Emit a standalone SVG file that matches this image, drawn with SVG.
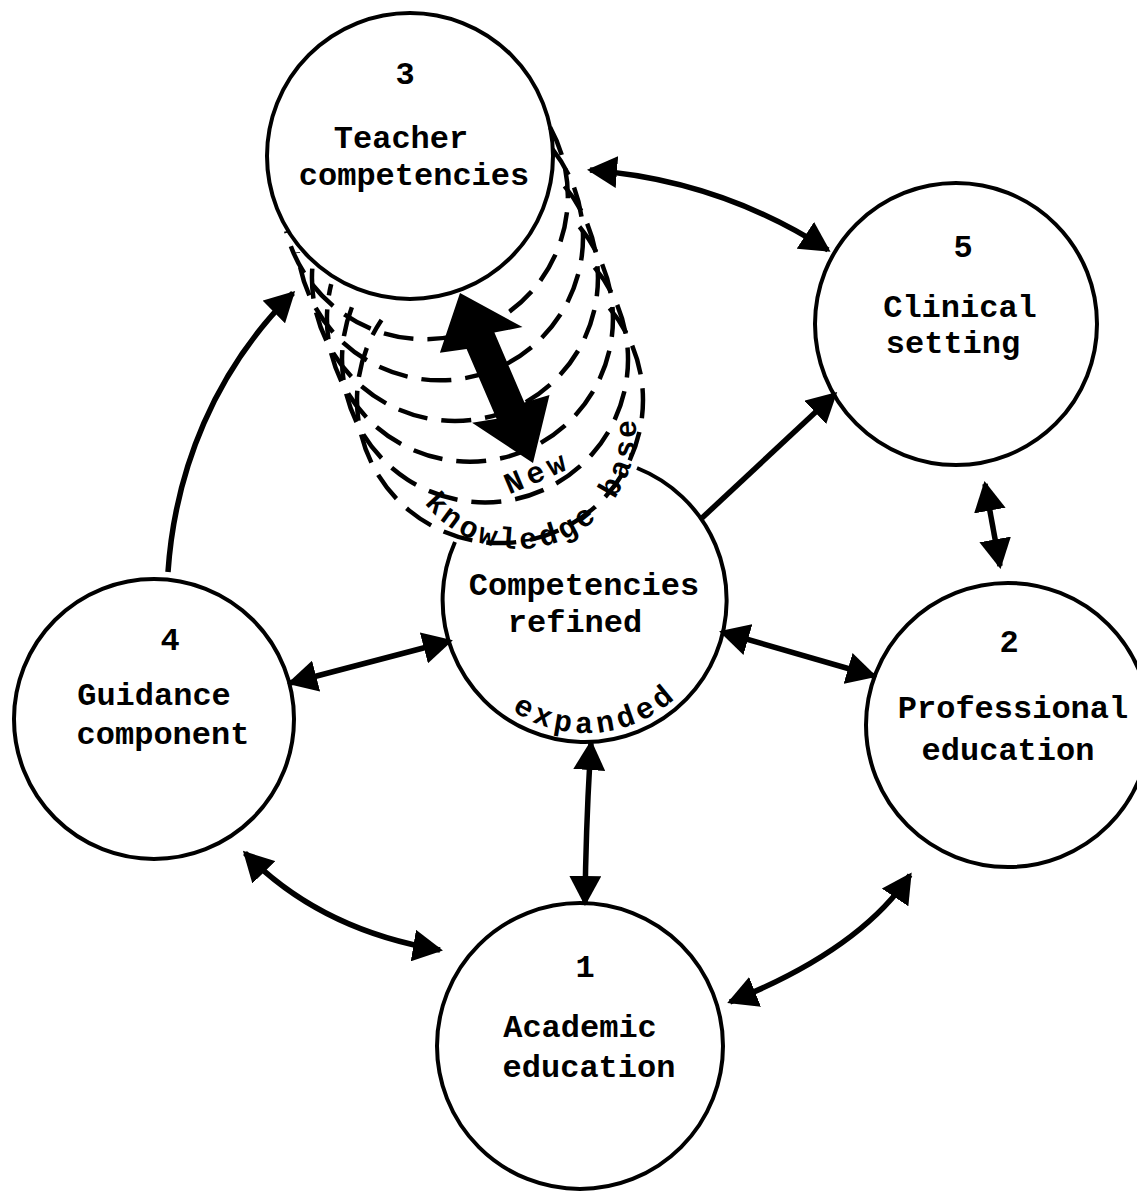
<svg xmlns="http://www.w3.org/2000/svg" width="1137" height="1195" viewBox="0 0 1137 1195">
  <style>
    .node{fill:none;stroke:#000;stroke-width:4}
    .lbl{font-family:"Liberation Mono","Courier New",monospace;font-size:32px;font-weight:bold;fill:#000;text-anchor:middle}
    .curved{font-family:"Liberation Mono","Courier New",monospace;font-size:30px;font-weight:bold;fill:#000}
    .conn{fill:none;stroke:#000;stroke-width:5.5}
    .ghost{fill:none;stroke:#000;stroke-width:4.5;stroke-dasharray:30 14}
  </style>
  <defs>
    <marker id="head" markerUnits="userSpaceOnUse" viewBox="0 0 30 32" refX="27" refY="16" markerWidth="30" markerHeight="32" orient="auto-start-reverse">
      <path d="M0,0 L30,16 L0,32 Z" fill="#000"/>
    </marker>
    <!-- baselines for the curved captions -->
    <path id="kbPath" d="M418.5,494.4 A118,118 0 0 0 633.2,405.5"/>
    <path id="expPath" d="M477.1,676.3 A133,133 0 0 0 706.5,656.2"/>
  </defs>

  <rect width="1137" height="1195" fill="#fff"/>

  <!-- dashed trail: copies of the teacher-competencies circle sliding toward the centre -->
  <g id="trail">
    <path class="ghost" d="M550.1,127.3 A143,143 0 1 1 286.2,231.3"/>
    <path class="ghost" d="M552.7,149.3 A143,143 0 1 1 297.8,252.3"/>
    <path class="ghost" d="M564.5,186.1 A143,143 0 1 1 312.3,268.0"/>
    <path class="ghost" d="M579.5,226.8 A143,143 0 1 1 331.2,284.1"/>
    <path class="ghost" d="M594.5,267.4 A143,143 0 1 1 354.4,301.2"/>
    <path class="ghost" d="M609.5,308.1 A143,143 0 1 1 381.5,320.0"/>
  </g>

  <g id="connectors">
    <path class="conn" d="M590,170 Q720,180 828,250" marker-start="url(#head)" marker-end="url(#head)"/>
    <path class="conn" d="M168,572 C175,470 215,370 293,293" marker-end="url(#head)"/>
    <path class="conn" d="M290,683 L450,641" marker-start="url(#head)" marker-end="url(#head)"/>
    <path class="conn" d="M722,632 L874,676" marker-start="url(#head)" marker-end="url(#head)"/>
    <path class="conn" d="M702,518 L835,394" marker-end="url(#head)"/>
    <path class="conn" d="M985,484 L1000,566" marker-start="url(#head)" marker-end="url(#head)"/>
    <path class="conn" d="M591,743 Q586,820 585,903" marker-start="url(#head)" marker-end="url(#head)"/>
    <path class="conn" d="M245,853 Q320,930 440,950" marker-start="url(#head)" marker-end="url(#head)"/>
    <path class="conn" d="M730,1002 Q860,950 910,875" marker-start="url(#head)" marker-end="url(#head)"/>
    <!-- heavy two-way arrow between 3 and the centre -->
    <polygon fill="#000" points="460,293 522.5,327.1 494.4,332.6 524.4,402.5 549.5,394.9 533,463 472.1,422.7 496.6,418.8 466.6,348.9 439.9,352.8"/>
  </g>

  <g id="n3">
    <circle class="node" cx="410" cy="156" r="143"/>
    <text class="lbl" x="405" y="84">3</text>
    <text class="lbl" x="401" y="148">Teacher</text>
    <text class="lbl" x="414" y="185">competencies</text>
  </g>

  <g id="n5">
    <circle class="node" cx="956" cy="324" r="141"/>
    <text class="lbl" x="963" y="257">5</text>
    <text class="lbl" x="960" y="317">Clinical</text>
    <text class="lbl" x="953" y="353">setting</text>
  </g>

  <g id="center">
    <path class="node" d="M637,468 A142,142 0 1 1 455,542"/>
    <text class="lbl" x="584" y="595">Competencies</text>
    <text class="lbl" x="575" y="632">refined</text>
    <text class="curved" letter-spacing="4.5" font-size="32"><textPath href="#expPath" startOffset="50%" text-anchor="middle">expanded</textPath></text>
    <text class="curved" letter-spacing="4"><textPath href="#kbPath" startOffset="50%" text-anchor="middle">knowledge base</textPath></text>
    <text class="curved" letter-spacing="5" text-anchor="middle" transform="translate(541,481) rotate(-23)">New</text>
  </g>

  <g id="n4">
    <circle class="node" cx="154" cy="719" r="140"/>
    <text class="lbl" x="170" y="650">4</text>
    <text class="lbl" x="154" y="705">Guidance</text>
    <text class="lbl" x="163" y="744">component</text>
  </g>

  <g id="n2">
    <circle class="node" cx="1008" cy="725" r="142"/>
    <text class="lbl" x="1009" y="652">2</text>
    <text class="lbl" x="1013" y="718">Professional</text>
    <text class="lbl" x="1008" y="760">education</text>
  </g>

  <g id="n1">
    <circle class="node" cx="580" cy="1046" r="143"/>
    <text class="lbl" x="585" y="977">1</text>
    <text class="lbl" x="580" y="1037">Academic</text>
    <text class="lbl" x="589" y="1077">education</text>
  </g>
</svg>
